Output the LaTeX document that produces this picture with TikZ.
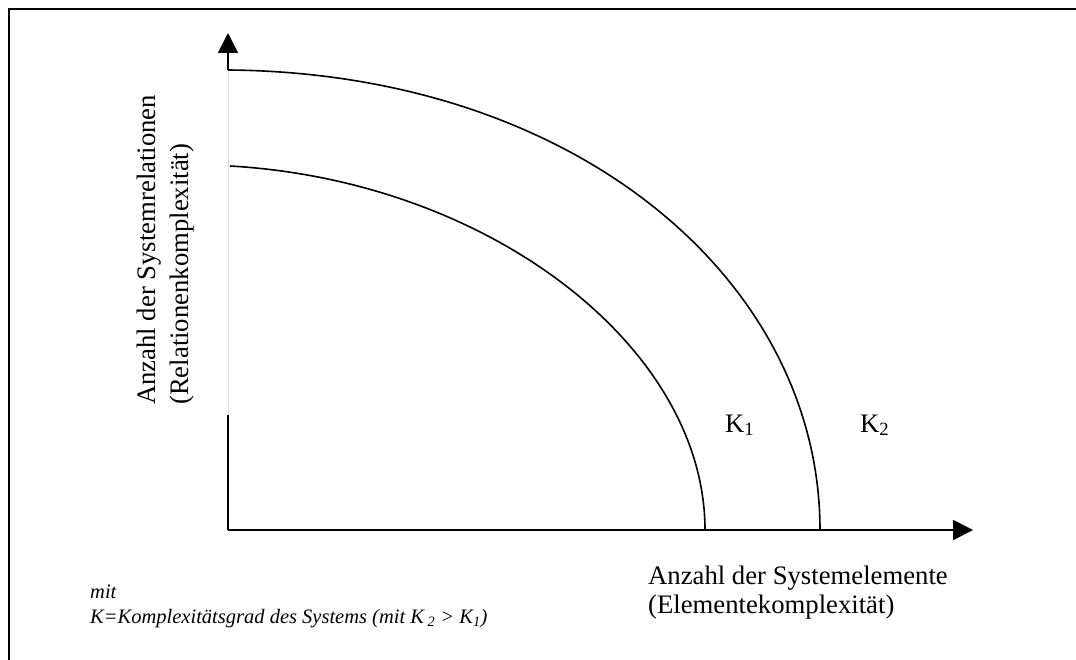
\documentclass[tikz,border=0pt]{standalone}
\usepackage{fontspec}
\setmainfont{Liberation Serif}
\usetikzlibrary{arrows.meta}
\tikzset{
  axisline/.style={line width=1.8pt,-{Triangle[length=20pt,width=20pt]}},
  curveline/.style={line width=1.6pt},
  biglabel/.style={inner sep=0pt,font=\fontsize{26.7}{30}\selectfont},
  notelabel/.style={inner sep=0pt,font=\fontsize{20.5}{24}\selectfont\itshape},
}
\begin{document}
\begin{tikzpicture}[x=1pt,y=-1pt]
\useasboundingbox (0,0) rectangle (1076,660);
% frame
\draw[line width=2.2pt] (9,662) -- (9,9) -- (1078,9);
% axes
\coordinate (O) at (228,530);
\coordinate (ytip) at (228,33);
\coordinate (xtip) at (973,530);
\coordinate (ygapbot) at (228,415);
\coordinate (ygaptop) at (228,70);
\draw[line width=1.8pt] (O) -- (ygapbot);
\draw[line width=0.6pt,gray!30] (ygapbot) -- (ygaptop);
\draw[axisline] (ygaptop) -- (ytip);
\draw[axisline] (O) -- (xtip);
% curves
\coordinate (i0) at (230,166);
\coordinate (i3) at (705,530);
\coordinate (o0) at (228,70);
\coordinate (o3) at (820,530);
\draw[curveline] (i0) .. controls (491,181) and (705,348) .. (i3);
\draw[curveline] (o0) .. controls (578,73) and (820,282) .. (o3);
% labels
\node[biglabel,anchor=base west] (k1) at (725,432) {K\textsubscript{1}};
\node[biglabel,anchor=base west] (k2) at (860,432) {K\textsubscript{2}};
\node[biglabel,anchor=base west] (xl1) at (648,584) {Anzahl der Systemelemente};
\node[biglabel,anchor=base west] (xl2) at (648,613) {(Elementekomplexität)};
\node[biglabel,anchor=base west,rotate=90] (yl1) at (155,405) {Anzahl der Systemrelationen};
\node[biglabel,anchor=base west,rotate=90] (yl2) at (188,405) {(Relationenkomplexität)};
\node[notelabel,anchor=base west] (n1) at (90,598) {mit};
\node[notelabel,anchor=base west] (n2) at (90,623) {K=Komplexitätsgrad des Systems (mit K\textsubscript{ 2} > K\textsubscript{1})};
\end{tikzpicture}
\end{document}
